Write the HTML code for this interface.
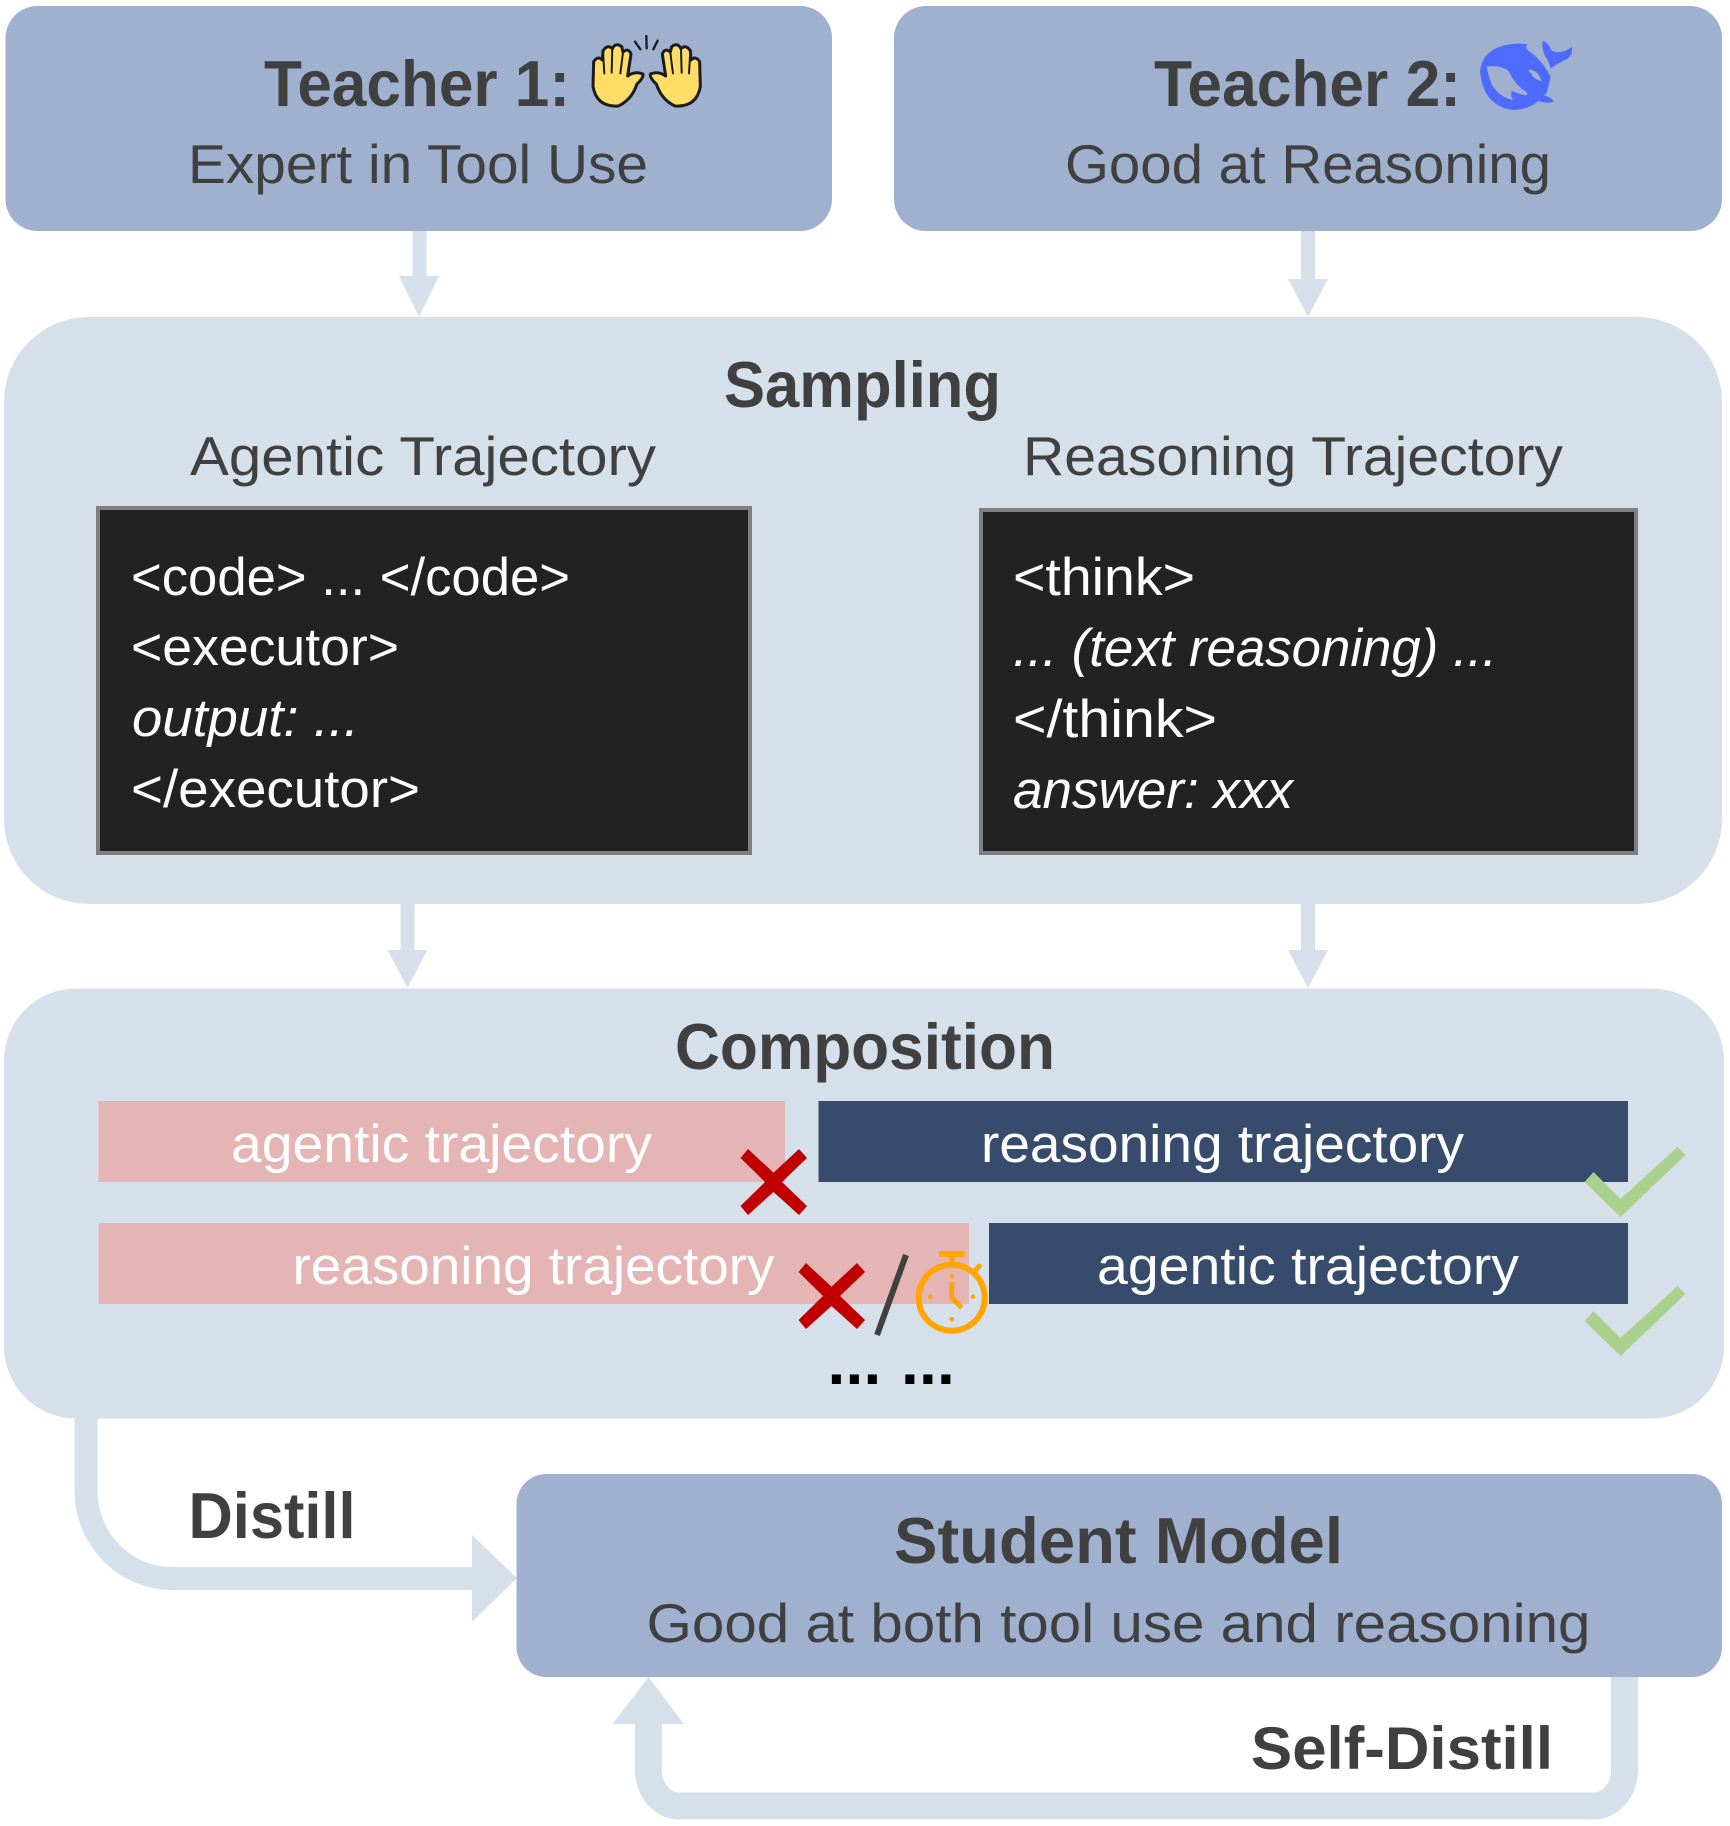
<!DOCTYPE html>
<html lang="en">
<head>
<meta charset="utf-8">
<title>Distillation diagram</title>
<style>
html,body{margin:0;padding:0;background:#fff;}
svg{display:block;}
text{font-family:"Liberation Sans",sans-serif;}
.h{font-weight:700;font-size:65px;fill:#404040;}
.s{font-size:55px;fill:#404040;}
.c{font-size:53px;fill:#fff;}
.i{font-style:italic;}
.b{font-size:53px;fill:#fff;}
</style>
</head>
<body>
<svg width="1730" height="1826" viewBox="0 0 1730 1826" xmlns="http://www.w3.org/2000/svg">
<rect width="1730" height="1826" fill="#fff"/>

<!-- connectors -->
<g fill="#D6E0EB">
  <rect x="412.5" y="231" width="14" height="46"/><polygon points="399,276 439,276 419,317"/>
  <rect x="1301" y="231" width="14" height="49"/><polygon points="1288,279 1328,279 1308,317"/>
  <rect x="400.5" y="903" width="14" height="48"/><polygon points="387.5,950 427.5,950 407.5,988"/>
  <rect x="1301" y="903" width="14" height="48"/><polygon points="1288,950 1328,950 1308,988"/>
</g>

<!-- panels -->
<rect x="5.5" y="6" width="826.5" height="225" rx="32" fill="#9FB1CF"/>
<rect x="894" y="6" width="828" height="225" rx="32" fill="#9FB1CF"/>
<rect x="4" y="317" width="1718" height="587" rx="85" fill="#D6E0EB"/>
<rect x="4" y="988.5" width="1720" height="430" rx="72" fill="#D6E0EB"/>

<!-- distill arrows -->
<g fill="none" stroke="#D6E0EB">
  <path d="M86 1418 V1490 A86 88 0 0 0 172 1578.5 H473" stroke-width="23"/>
  <path d="M1624.5 1677 V1770 A31 36 0 0 1 1593.5 1806 H679 A30.5 36 0 0 1 648.5 1770 V1720" stroke-width="27"/>
</g>
<polygon points="472,1535 517,1578 472,1622" fill="#D6E0EB"/>
<polygon points="612.5,1724 684,1724 648.5,1677" fill="#D6E0EB"/>

<rect x="516.5" y="1474" width="1205.5" height="203" rx="30" fill="#9FB1CF"/>

<!-- teachers -->
<text class="h" x="264" y="106" textLength="306" lengthAdjust="spacingAndGlyphs">Teacher 1:</text>
<text class="s" x="188" y="183" textLength="460" lengthAdjust="spacingAndGlyphs">Expert in Tool Use</text>
<text class="h" x="1154" y="106" textLength="307" lengthAdjust="spacingAndGlyphs">Teacher 2:</text>
<text class="s" x="1065" y="183" textLength="486" lengthAdjust="spacingAndGlyphs">Good at Reasoning</text>

<!-- raised hands icon -->
<g transform="translate(585 30) scale(0.3333)" stroke="#1c1c1c" stroke-width="9" stroke-linejoin="round" stroke-linecap="round">
  <path d="M24 170 L26 95 Q38 76 52 90 L54 62 Q68 42 82 56 Q92 36 110 50 L114 66 Q130 52 138 72 L128 138 Q150 122 174 132 Q176 144 156 162 Q140 210 100 228 Q35 232 24 170Z" fill="#FFDD67"/>
  <path d="M54 65 L58 130 M82 55 L80 128 M114 68 L106 130" fill="none" stroke-width="6"/>
  <g transform="translate(370 0) scale(-1 1)">
    <path d="M24 170 L26 95 Q38 76 52 90 L54 62 Q68 42 82 56 Q92 36 110 50 L114 66 Q130 52 138 72 L128 138 Q150 122 174 132 Q176 144 156 162 Q140 210 100 228 Q35 232 24 170Z" fill="#FFDD67"/>
    <path d="M54 65 L58 130 M82 55 L80 128 M114 68 L106 130" fill="none" stroke-width="6"/>
  </g>
  <path d="M150 35 L166 58 M184 18 L185 55 M218 32 L205 58" fill="none" stroke-width="7"/>
</g>

<!-- whale icon -->
<g transform="translate(1470 35) scale(0.3333)">
  <path d="M30 110 Q35 50 100 32 Q140 22 172 28 Q162 38 182 52 Q204 68 224 95 L242 125 L230 175 L222 180 Q245 188 252 200 Q235 207 205 198 Q170 228 120 224 Q40 208 30 110 Z" fill="#4D6BFE"/>
  <path d="M50 95 Q92 90 116 108 Q136 150 165 168 Q182 182 160 180 L125 168 Q120 185 130 195 Q90 188 66 150 Q54 120 50 95 Z" fill="#9FB1CF"/>
  <path d="M175 105 Q200 100 215 138 Q190 135 175 105 Z" fill="#9FB1CF"/>
  <circle cx="182" cy="118" r="4" fill="#4D6BFE"/>
  <path d="M218 16 Q238 26 244 46 Q264 58 290 45 L306 36 Q308 68 282 76 Q260 88 242 100 Q236 76 226 65 Q214 42 218 16Z" fill="#4D6BFE"/>
</g>

<!-- sampling -->
<text class="h" x="724" y="407" textLength="277" lengthAdjust="spacingAndGlyphs">Sampling</text>
<text class="s" x="190" y="475" textLength="466" lengthAdjust="spacingAndGlyphs">Agentic Trajectory</text>
<text class="s" x="1023" y="475" textLength="540" lengthAdjust="spacingAndGlyphs">Reasoning Trajectory</text>

<rect x="98" y="508" width="652" height="345" fill="#222222" stroke="#7F7F7F" stroke-width="4"/>
<rect x="981" y="510" width="655" height="343" fill="#222222" stroke="#7F7F7F" stroke-width="4"/>

<text class="b" x="131" y="595" textLength="439" lengthAdjust="spacingAndGlyphs">&lt;code&gt; ... &lt;/code&gt;</text>
<text class="b" x="131" y="665" textLength="268" lengthAdjust="spacingAndGlyphs">&lt;executor&gt;</text>
<text class="b i" x="132" y="736" textLength="227" lengthAdjust="spacingAndGlyphs">output: ...</text>
<text class="b" x="131" y="807" textLength="289" lengthAdjust="spacingAndGlyphs">&lt;/executor&gt;</text>

<text class="b" x="1013" y="595" textLength="182" lengthAdjust="spacingAndGlyphs">&lt;think&gt;</text>
<text class="b i" x="1013" y="666" textLength="484" lengthAdjust="spacingAndGlyphs">... (text reasoning) ...</text>
<text class="b" x="1013" y="737" textLength="204" lengthAdjust="spacingAndGlyphs">&lt;/think&gt;</text>
<text class="b i" x="1013" y="808" textLength="280" lengthAdjust="spacingAndGlyphs">answer: xxx</text>

<!-- composition -->
<text class="h" x="675" y="1069" textLength="380" lengthAdjust="spacingAndGlyphs">Composition</text>
<rect x="98.5" y="1101" width="686.5" height="81" fill="#E5B4B4"/>
<rect x="818.5" y="1101" width="809.5" height="81" fill="#374C6C"/>
<rect x="98.5" y="1223" width="870.5" height="81" fill="#E5B4B4"/>
<rect x="989" y="1223" width="639" height="81" fill="#374C6C"/>
<text class="c" x="231" y="1162" textLength="421" lengthAdjust="spacingAndGlyphs">agentic trajectory</text>
<text class="c" x="981" y="1162" textLength="483" lengthAdjust="spacingAndGlyphs">reasoning trajectory</text>
<text class="c" x="292.5" y="1284" textLength="482" lengthAdjust="spacingAndGlyphs">reasoning trajectory</text>
<text class="c" x="1097" y="1284" textLength="422" lengthAdjust="spacingAndGlyphs">agentic trajectory</text>

<!-- crosses -->
<polygon transform="translate(740.5 1149)" fill="#C00000" points="7.5,0 33,23.7 58.5,0 66.5,9 41.5,33 66.5,57 58.5,66 33,43 7.5,66 0,57 24.5,33 0,9"/>
<polygon transform="translate(798.5 1263)" fill="#C00000" points="7.5,0 33,23.7 58.5,0 66.5,9 41.5,33 66.5,57 58.5,66 33,43 7.5,66 0,57 24.5,33 0,9"/>

<!-- checks -->
<polygon fill="#A9D18E" transform="translate(-4.5 0)" points="1598,1172 1625,1199 1682,1147 1690,1155 1625,1217 1589,1182"/>
<polygon fill="#A9D18E" transform="translate(-4.5 139)" points="1598,1172 1625,1199 1682,1147 1690,1155 1625,1217 1589,1182"/>

<!-- slash -->
<line x1="906" y1="1255" x2="877" y2="1335" stroke="#404040" stroke-width="6"/>

<!-- stopwatch -->
<g fill="none" stroke="#FFA600">
  <circle cx="951.7" cy="1297.7" r="33" stroke-width="6"/>
  <line x1="952" y1="1257" x2="952" y2="1263" stroke-width="5"/>
  <line x1="975" y1="1270.7" x2="979.3" y2="1266" stroke-width="5" stroke-linecap="round"/>
  <path d="M951.7 1282 V1297.7 L961.7 1307.7" stroke-width="5"/>
</g>
<g fill="#FFA600">
  <rect x="939" y="1251" width="25.7" height="6"/>
  <circle cx="951.7" cy="1276.3" r="2.3"/>
  <circle cx="930.3" cy="1296.7" r="2.3"/>
  <circle cx="973" cy="1296.7" r="2.3"/>
  <circle cx="951.7" cy="1319" r="2.3"/>
</g>

<!-- ellipsis -->
<text x="827.5 845.5 863.5" y="1384" font-size="64" font-weight="700" fill="#000">...</text>
<text x="901 919 937" y="1384" font-size="64" font-weight="700" fill="#000">...</text>

<!-- student -->
<text class="h" x="894" y="1563" textLength="449" lengthAdjust="spacingAndGlyphs">Student Model</text>
<text class="s" x="646.5" y="1642" textLength="944" lengthAdjust="spacingAndGlyphs">Good at both tool use and reasoning</text>
<text class="h" x="188.5" y="1538" textLength="167" lengthAdjust="spacingAndGlyphs">Distill</text>
<text class="h" x="1251" y="1769" textLength="302" lengthAdjust="spacingAndGlyphs" style="font-size:60px">Self-Distill</text>
</svg>
</body>
</html>
